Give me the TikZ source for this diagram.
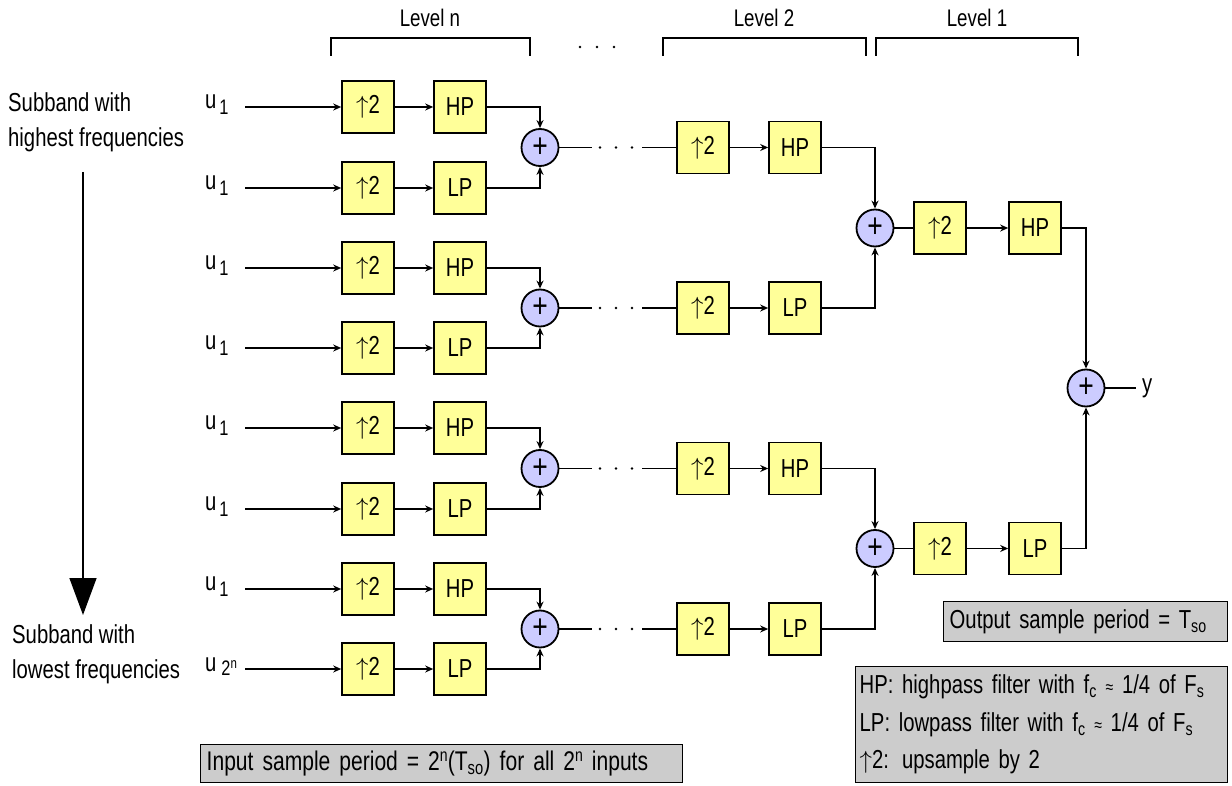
\documentclass[tikz,border=0pt]{standalone}
\usepackage{fontspec}
\setmainfont[FakeStretch=0.78]{Liberation Sans}
\usetikzlibrary{arrows.meta}
\definecolor{boxyellow}{HTML}{FFFF99}
\definecolor{sumblue}{HTML}{CCCCFF}
\definecolor{notegray}{HTML}{CCCCCC}
\newcommand{\ulab}[1]{u\hspace{3pt}\raisebox{-6pt}{\fontsize{21}{21}\selectfont #1}}
\newcommand{\apx}{{\fontsize{18}{18}\selectfont ≈}}
\newcommand{\supn}{\raisebox{9pt}{\fontsize{18}{18}\selectfont n}}
\begin{document}
\begin{tikzpicture}[x=1pt,y=-1pt,
  txt/.style={font=\fontsize{26}{30}\selectfont, inner sep=0pt},
  blk/.style={draw, line width=1.6pt, fill=boxyellow, minimum width=52pt, minimum height=52pt, inner sep=0pt, font=\fontsize{26}{30}\selectfont},
  sumnode/.style={circle, draw, line width=1.8pt, fill=sumblue, minimum size=37pt, inner sep=0pt, font=\fontsize{34}{34}\selectfont},
  conn/.style={line width=1.4pt},
  arr/.style={conn, -{Stealth[length=8pt,width=7pt]}},
  note/.style={draw, line width=1.4pt, fill=notegray, align=left, font=\fontsize{26}{30}\selectfont, inner ysep=0pt}
]
\useasboundingbox (0,0) rectangle (1232,786);

% level brackets
\node[txt, font=\fontsize{24}{26}\selectfont] (lvn) at (430,18) {Level n};
\node[txt, font=\fontsize{24}{26}\selectfont] (lv2) at (764,18) {Level 2};
\node[txt, font=\fontsize{24}{26}\selectfont] (lv1) at (977,18) {Level 1};
\coordinate (bna) at (331,56); \coordinate (bnb) at (331,38); \coordinate (bnc) at (530,38); \coordinate (bnd) at (530,56);
\coordinate (b2a) at (663,56); \coordinate (b2b) at (663,38); \coordinate (b2c) at (866,38); \coordinate (b2d) at (866,56);
\coordinate (b1a) at (876,56); \coordinate (b1b) at (876,38); \coordinate (b1c) at (1078,38); \coordinate (b1d) at (1078,56);
\draw[conn] (bna) -- (bnb) -- (bnc) -- (bnd);
\draw[conn] (b2a) -- (b2b) -- (b2c) -- (b2d);
\draw[conn] (b1a) -- (b1b) -- (b1c) -- (b1d);
\foreach \dx in {580,597,614} \fill (\dx,47) circle (1.3pt);

% left annotation
\node[txt, anchor=west, align=left, font=\fontsize{26}{35}\selectfont] (hi) at (8,122) {Subband with\\highest frequencies};
\node[txt, anchor=west, align=left, font=\fontsize{26}{35}\selectfont] (lo) at (12,654) {Subband with\\lowest frequencies};
\coordinate (la) at (83,172); \coordinate (lb) at (83,615);
\draw[line width=1.4pt, -{Triangle[length=37pt,width=27pt]}] (la) -- (lb);

% level n
\foreach \i/\y/\f in {1/107/HP,2/188/LP,3/268/HP,4/348/LP,5/428/HP,6/509/LP,7/589/HP,8/669/LP}{
  \coordinate (in\i) at (245,\y);
  \node[blk] (up\i) at (368,\y) {$\uparrow$2};
  \node[blk] (f\i) at (460,\y) {\f};
  \draw[arr] (in\i) -- (up\i);
  \draw[arr] (up\i) -- (f\i);
}
\foreach \i/\y in {1/107,2/188,3/268,4/348,5/428,6/509,7/589}
  \node[txt, anchor=west] (lab\i) at (205,\y-2) {\ulab{1}};
\node[txt, anchor=west] (lab8) at (205,667) {u\hspace{5pt}\raisebox{-4pt}{\fontsize{21}{21}\selectfont 2\textsuperscript{n}}};

\foreach \j/\y in {1/147.5,2/308,3/468.5,4/629}
  \node[sumnode] (s\j) at (540,\y) {+};
\draw[arr] (f1) -| (s1.north); \draw[arr] (f2) -| (s1.south);
\draw[arr] (f3) -| (s2.north); \draw[arr] (f4) -| (s2.south);
\draw[arr] (f5) -| (s3.north); \draw[arr] (f6) -| (s3.south);
\draw[arr] (f7) -| (s4.north); \draw[arr] (f8) -| (s4.south);

% level 2
\foreach \j/\y/\f in {1/147.5/HP,2/308/LP,3/468.5/HP,4/629/LP}{
  \coordinate (da\j) at (592,\y); \coordinate (db\j) at (642,\y);
  \node[blk] (uu\j) at (703,\y) {$\uparrow$2};
  \node[blk] (ff\j) at (795,\y) {\f};
  \draw[conn] (s\j) -- (da\j);
  \foreach \dx in {600,616,632} \fill (\dx,\y) circle (1.3pt);
  \draw[conn] (db\j) -- (uu\j);
  \draw[arr] (uu\j) -- (ff\j);
}
\node[sumnode] (t1) at (875,228) {+};
\node[sumnode] (t2) at (875,548.5) {+};
\draw[arr] (ff1) -| (t1.north); \draw[arr] (ff2) -| (t1.south);
\draw[arr] (ff3) -| (t2.north); \draw[arr] (ff4) -| (t2.south);

% level 1
\node[blk] (v1) at (940,228) {$\uparrow$2};
\node[blk] (g1) at (1035,228) {HP};
\node[blk] (v2) at (940,548.5) {$\uparrow$2};
\node[blk] (g2) at (1035,548.5) {LP};
\draw[conn] (t1) -- (v1); \draw[arr] (v1) -- (g1);
\draw[conn] (t2) -- (v2); \draw[arr] (v2) -- (g2);
\node[sumnode] (fin) at (1086,388) {+};
\draw[arr] (g1) -| (fin.north); \draw[arr] (g2) -| (fin.south);
\coordinate (yout) at (1136,388);
\draw[conn] (fin) -- (yout);
\node[txt, anchor=west] (ylab) at (1142,388) {y};

% notes
\node[note, anchor=north west, text width=470pt, inner xsep=6pt, minimum height=38pt, font=\fontsize{27}{30}\selectfont] (inbox) at (200,744)
  {Input sample period = 2\supn(T\textsubscript{so}) for all 2\supn{} inputs};
\node[note, anchor=north west, text width=272pt, inner xsep=6pt, minimum height=40pt] (outbox) at (943,601)
  {Output sample period = T\textsubscript{so}};
\node[note, anchor=north west, text width=364pt, inner xsep=4pt, minimum height=116pt, font=\fontsize{26}{37.5}\selectfont] (legend) at (855,666)
  {HP: highpass filter with f\textsubscript{c} \apx{} 1/4 of F\textsubscript{s}\\LP: lowpass filter with f\textsubscript{c} \apx{} 1/4 of F\textsubscript{s}\\$\uparrow$2: upsample by 2};
\end{tikzpicture}
\end{document}
